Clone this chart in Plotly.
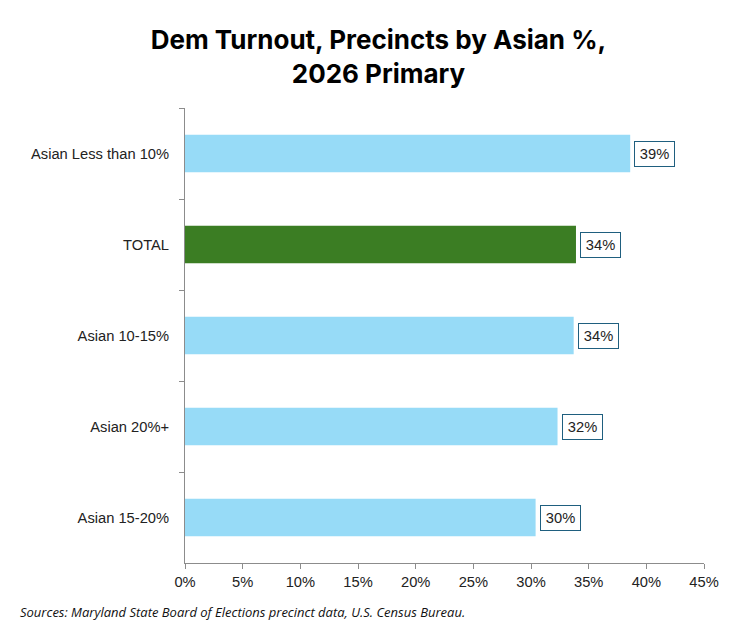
import plotly.graph_objects as go

# chart data, top row first
categories = ["Asian Less than 10%", "TOTAL", "Asian 10-15%", "Asian 20%+", "Asian 15-20%"]
turnout = [38.6, 33.9, 33.7, 32.3, 30.4]    # % of Dem voters
labels = ["39%", "34%", "34%", "32%", "30%"]
x_ticks = [0, 5, 10, 15, 20, 25, 30, 35, 40, 45]

BLUE = "#97DBF7"
GREEN = "#3B7D23"
BOX = "#1F5F7F"
AXIS = "#8C8C8C"

colors = [GREEN if c == "TOTAL" else BLUE for c in categories]

fig = go.Figure(go.Bar(
    x=turnout,
    y=categories,
    orientation="h",
    width=0.41,
    marker=dict(color=colors, line=dict(width=0)),
    hoverinfo="skip",
))

# boxed data labels just right of each bar
for cat, val, lab in zip(categories, turnout, labels):
    fig.add_annotation(
        x=val, y=cat, text=lab, showarrow=False,
        xanchor="left", xshift=4,
        width=35, height=20,
        font=dict(family="Liberation Sans", size=14.7, color="#222222"),
        bordercolor=BOX, borderwidth=1, borderpad=2, bgcolor="white",
    )

fig.add_annotation(
    xref="paper", yref="paper", x=-0.322, y=-0.107,
    xanchor="left", yanchor="middle", showarrow=False,
    text="<i>Sources: Maryland State Board of Elections precinct data, U.S. Census Bureau.</i>",
    font=dict(family="Open Sans", size=13, color="#111111"),
)

# page body adds 8px on the left and top, so margins are offset for it
fig.update_layout(
    width=741, height=639,
    margin=dict(l=177, r=45, t=100, b=84),
    paper_bgcolor="white", plot_bgcolor="white",
    showlegend=False,
    title=dict(
        text="<b>Dem Turnout, Precincts by Asian %,<br>2026 Primary</b>",
        x=0.5, xanchor="center", y=0.936, yanchor="middle",
        font=dict(family="Inter", size=26, color="black"),
    ),
    xaxis=dict(
        range=[0, 45], tickvals=x_ticks,
        ticktext=[f"{t}%" for t in x_ticks],
        showgrid=False, zeroline=False,
        showline=True, linecolor=AXIS, linewidth=1,
        ticks="outside", ticklen=5, tickcolor=AXIS,
        tickfont=dict(family="Liberation Sans", size=14.7, color="#222222"),
    ),
    yaxis=dict(
        categoryorder="array", categoryarray=categories,
        autorange="reversed",
        showgrid=False, zeroline=False,
        showline=True, linecolor=AXIS, linewidth=1,
        ticks="outside", ticklen=5, tickcolor=AXIS,
        tickson="boundaries",
        ticklabelstandoff=12,
        tickfont=dict(family="Liberation Sans", size=14.7, color="#222222"),
    ),
)

fig.write_html("out.html")
